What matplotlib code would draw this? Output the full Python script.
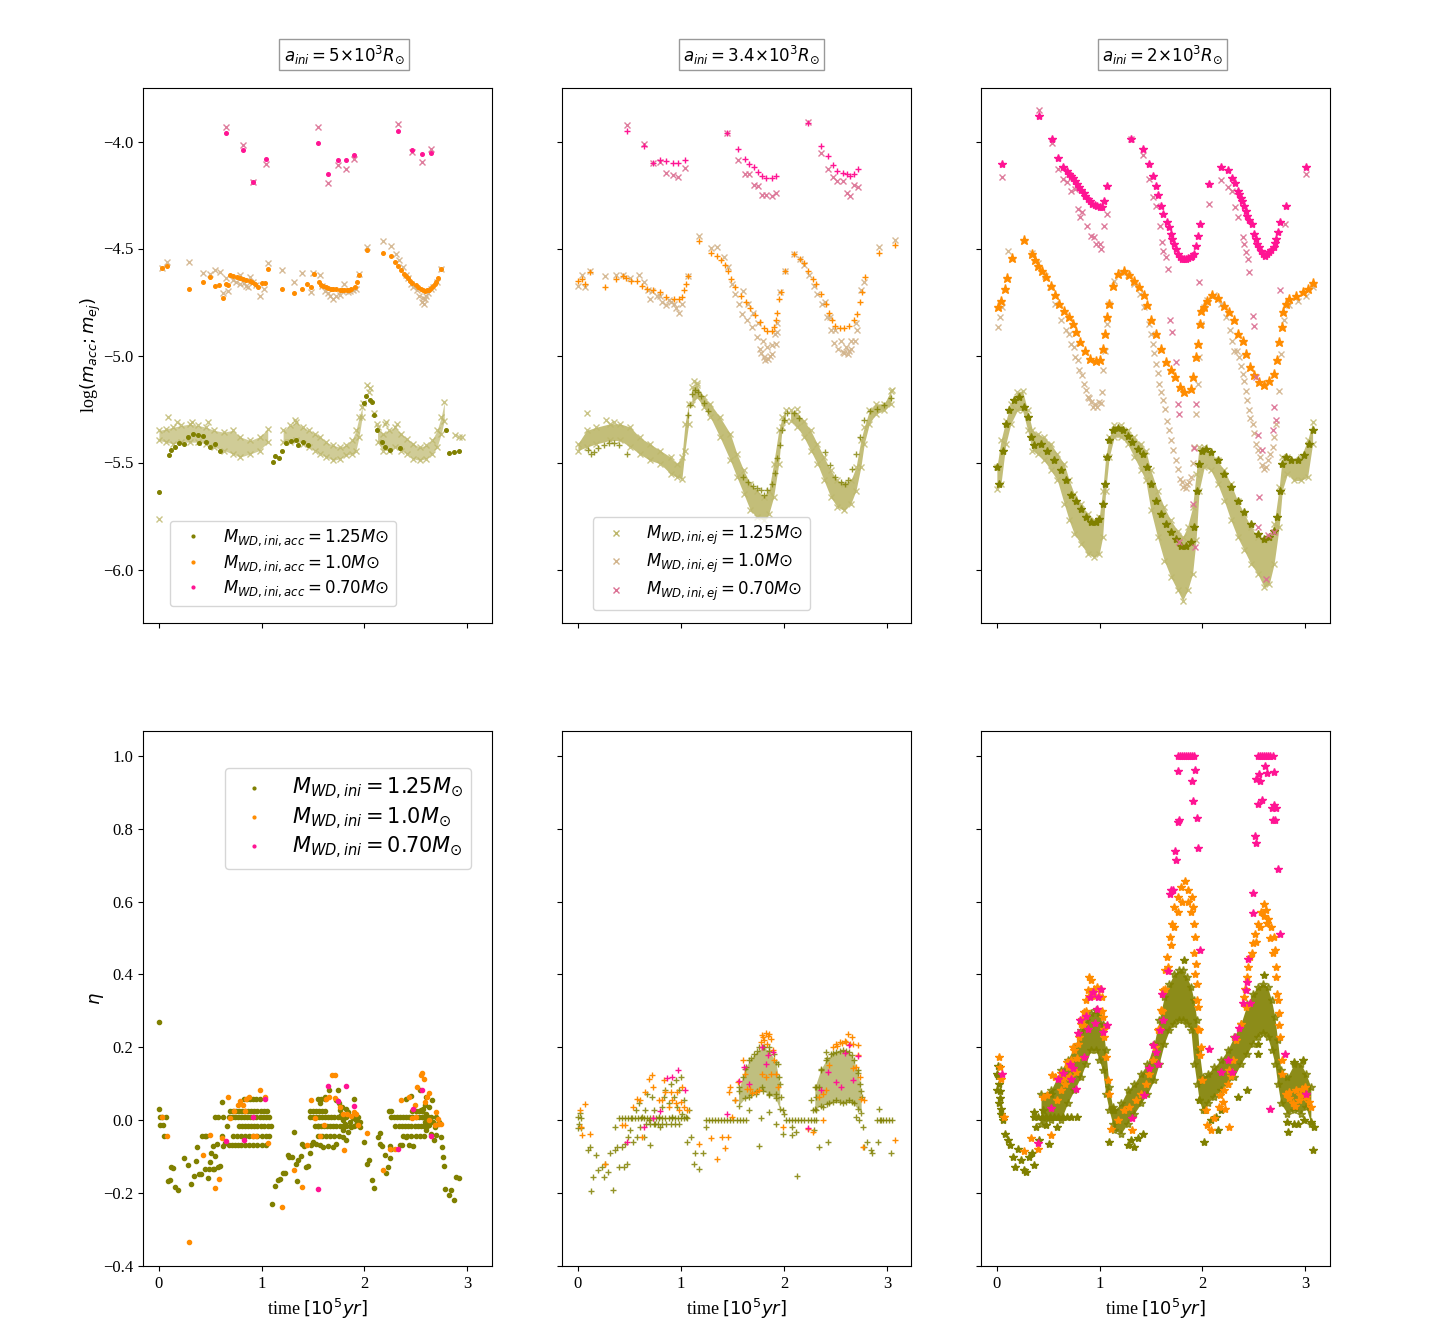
import matplotlib
matplotlib.use("Agg")
import matplotlib.pyplot as plt
from matplotlib.lines import Line2D

plt.rcParams["font.family"] = ["Liberation Serif", "DejaVu Serif"]
plt.rcParams["mathtext.fontset"] = "dejavusans"

# colours
C125, C100, C070 = "olive", "darkorange", "deeppink"
E125, E100, E070 = "darkkhaki", "tan", "palevioletred"

# ==========================
# TOP LEFT  (a_ini = 5e3)
# ==========================
TL_ACC070_T = [0.65, 0.82, 0.92, 1.04, 1.55, 1.65, 1.74, 1.82, 1.90, 2.33, 2.47, 2.56, 2.65]
TL_ACC070_M = [-3.96, -4.04, -4.19, -4.08, -4.005, -4.15, -4.085, -4.085, -4.065, -3.95, -4.04, -4.06, -4.055]
TL_EJ070_M = [-3.93, -4.015, -4.19, -4.105, -3.93, -4.195, -4.11, -4.13, -4.08, -3.92, -4.05, -4.095, -4.035]

TL_ACC100_T = [0.03, 0.08, 0.29, 0.43, 0.50, 0.55, 0.59, 0.62, 0.65, 0.67, 0.69, 0.76, 0.82, 0.89, 0.94,
               0.97, 1.00, 1.03, 1.06, 1.20, 1.32, 1.39, 1.44, 1.48, 1.51, 1.56, 1.58, 1.63, 1.68, 1.73,
               1.78, 1.83, 1.87, 1.91, 1.93, 1.95, 2.03, 2.18, 2.26, 2.30, 2.33, 2.36, 2.39, 2.43, 2.47,
               2.52, 2.57, 2.61, 2.65, 2.69, 2.72, 2.75, 0.72, 0.79, 0.85, 0.91, 1.60, 1.65, 1.70, 1.76,
               1.80, 1.85, 2.41, 2.45, 2.50, 2.55, 2.59, 2.63, 2.67, 2.70]
TL_ACC100_M = [-4.59, -4.58, -4.69, -4.655, -4.635, -4.675, -4.67, -4.73, -4.665, -4.67, -4.626, -4.634,
               -4.643, -4.654, -4.665, -4.68, -4.66, -4.66, -4.595, -4.69, -4.71, -4.69, -4.665, -4.68,
               -4.62, -4.655, -4.67, -4.68, -4.69, -4.69, -4.695, -4.695, -4.69, -4.68, -4.657, -4.626,
               -4.506, -4.519, -4.534, -4.562, -4.583, -4.60, -4.62, -4.64, -4.66, -4.68, -4.696, -4.696,
               -4.685, -4.665, -4.64, -4.597, -4.628, -4.638, -4.648, -4.658, -4.675, -4.685, -4.69,
               -4.693, -4.695, -4.693, -4.63, -4.65, -4.67, -4.69, -4.697, -4.692, -4.675, -4.655]
TL_EJ100_T = [0.03, 0.08, 0.29, 0.43, 0.50, 0.55, 0.60, 0.62, 0.67, 0.65, 0.72, 0.79, 0.85, 0.92, 0.98,
              1.02, 1.06, 0.89, 0.79, 1.20, 1.32, 1.39, 1.48, 1.50, 1.57, 1.59, 1.65, 1.70, 1.76, 1.80,
              1.84, 1.89, 1.95, 2.03, 2.18, 2.26, 2.31, 2.34, 2.38, 2.41, 2.46, 2.51, 2.56, 2.59, 2.62,
              2.67, 2.71, 2.75, 0.75, 0.83, 0.87, 0.95, 1.62, 1.67, 1.73, 1.78, 1.86, 1.92, 2.43, 2.48,
              2.53, 2.57, 2.60, 2.65, 2.58]
TL_EJ100_M = [-4.59, -4.564, -4.565, -4.615, -4.62, -4.60, -4.61, -4.71, -4.70, -4.64, -4.646, -4.665,
              -4.673, -4.657, -4.72, -4.69, -4.568, -4.634, -4.626, -4.60, -4.656, -4.615, -4.704, -4.615,
              -4.626, -4.673, -4.71, -4.735, -4.715, -4.665, -4.704, -4.696, -4.618, -4.494, -4.463,
              -4.49, -4.528, -4.553, -4.587, -4.626, -4.665, -4.696, -4.75, -4.735, -4.71, -4.678,
              -4.657, -4.595, -4.655, -4.66, -4.68, -4.67, -4.70, -4.72, -4.72, -4.70, -4.70, -4.69,
              -4.64, -4.68, -4.72, -4.73, -4.72, -4.69, -4.76]

TL_ACC125_T = [0.0, 0.094, 0.117, 0.156, 0.198, 0.24, 0.286, 0.334, 0.38, 0.39, 0.43, 0.46, 0.50, 0.545,
               0.60, 1.107, 1.13, 1.17, 1.20, 1.24, 1.29, 1.34, 1.357, 1.40, 1.455, 2.0, 2.02, 2.055,
               2.08, 2.10, 2.12, 2.17, 2.20, 2.25, 2.35, 2.80, 2.83, 2.87, 2.92]
TL_ACC125_M = [-5.636, -5.463, -5.44, -5.428, -5.408, -5.413, -5.38, -5.366, -5.37, -5.41, -5.374, -5.405,
               -5.428, -5.413, -5.444, -5.497, -5.469, -5.478, -5.447, -5.407, -5.40, -5.397, -5.42,
               -5.405, -5.42, -5.223, -5.187, -5.206, -5.215, -5.277, -5.347, -5.405, -5.428, -5.44,
               -5.43, -5.346, -5.456, -5.45, -5.447]

# ejected mass, 1.25 Msun: dense band (lower / upper edge) in three pieces + stray points
TL_EJ125_X1 = [0.0, 0.07, 0.14, 0.22, 0.30, 0.38, 0.46, 0.54, 0.63, 0.72, 0.79, 0.89, 0.98, 1.06]
TL_EJ125_LO1 = [-5.397, -5.405, -5.413, -5.405, -5.405, -5.405, -5.413, -5.428, -5.444, -5.46, -5.475, -5.46, -5.444, -5.405]
TL_EJ125_HI1 = [-5.35, -5.343, -5.335, -5.327, -5.32, -5.327, -5.335, -5.35, -5.358, -5.35, -5.38, -5.397, -5.38, -5.343]
TL_EJ125_X2 = [1.21, 1.28, 1.34, 1.40, 1.46, 1.52, 1.57, 1.63, 1.70, 1.76, 1.82, 1.88, 1.92, 1.95, 1.98]
TL_EJ125_LO2 = [-5.405, -5.405, -5.397, -5.413, -5.428, -5.444, -5.46, -5.475, -5.49, -5.483, -5.467, -5.46, -5.444, -5.38, -5.288]
TL_EJ125_HI2 = [-5.35, -5.327, -5.312, -5.335, -5.35, -5.366, -5.38, -5.405, -5.42, -5.428, -5.42, -5.397, -5.35, -5.288, -5.241]
TL_EJ125_X3 = [2.13, 2.18, 2.24, 2.30, 2.36, 2.42, 2.48, 2.54, 2.60, 2.66, 2.71, 2.75, 2.78]
TL_EJ125_LO3 = [-5.405, -5.444, -5.444, -5.428, -5.444, -5.46, -5.483, -5.49, -5.483, -5.46, -5.428, -5.366, -5.304]
TL_EJ125_HI3 = [-5.335, -5.366, -5.35, -5.335, -5.366, -5.39, -5.413, -5.428, -5.42, -5.397, -5.35, -5.288, -5.218]
TL_EJ125_T = [0.0, 0.09, 0.18, 0.32, 0.48, 1.33, 1.99, 2.03, 2.05, 2.06, 2.10, 2.12, 2.20, 2.21, 2.32, 2.88, 2.92, 2.95]
TL_EJ125_M = [-5.766, -5.288, -5.31, -5.31, -5.31, -5.30, -5.22, -5.14, -5.17, -5.15, -5.27, -5.32, -5.32, -5.31, -5.32, -5.37, -5.38, -5.38]

# ==========================
# TOP MIDDLE  (a_ini = 3.4e3)
# ==========================
TM_ACC070_T = [0.48, 0.64, 0.73, 0.80, 0.86, 0.92, 0.97, 1.04, 1.45, 1.555, 1.62, 1.665, 1.71, 1.75,
               1.79, 1.83, 1.88, 1.925, 2.23, 2.36, 2.43, 2.48, 2.52, 2.57, 2.61, 2.64, 2.68, 2.72]
TM_ACC070_M = [-3.95, -4.02, -4.10, -4.087, -4.093, -4.10, -4.10, -4.086, -3.96, -4.037, -4.08, -4.107,
               -4.12, -4.142, -4.159, -4.17, -4.17, -4.159, -3.914, -4.019, -4.07, -4.109, -4.136,
               -4.145, -4.154, -4.16, -4.151, -4.13]
TM_EJ070_M = [-3.924, -4.011, -4.10, -4.097, -4.148, -4.157, -4.164, -4.125, -3.96, -4.086, -4.151,
              -4.151, -4.203, -4.209, -4.25, -4.25, -4.257, -4.24, -3.91, -4.055, -4.13, -4.164, -4.185,
              -4.185, -4.24, -4.257, -4.204, -4.213]

TM_ACC100_T = [0.0, 0.045, 0.07, 0.12, 0.26, 0.37, 0.435, 0.47, 0.52, 0.57, 0.62, 0.67, 0.73, 0.80, 0.86,
               0.93, 0.98, 1.01, 1.03, 1.05, 1.07, 1.18, 1.29, 1.35, 1.39, 1.425, 1.455, 1.49, 1.53, 1.58,
               1.63, 1.675, 1.72, 1.77, 1.805, 1.84, 1.88, 1.90, 1.92, 1.935, 1.955, 1.97, 2.01, 2.10,
               2.16, 2.20, 2.23, 2.28, 2.31, 2.36, 2.41, 2.44, 2.47, 2.50, 2.545, 2.58, 2.63, 2.68, 2.71,
               2.74, 2.76, 2.785, 2.92, 3.08]
TM_ACC100_M = [-4.65, -4.642, -4.665, -4.61, -4.68, -4.642, -4.63, -4.64, -4.65, -4.65, -4.673, -4.69,
               -4.696, -4.704, -4.727, -4.735, -4.735, -4.727, -4.696, -4.665, -4.628, -4.467, -4.522,
               -4.537, -4.553, -4.575, -4.603, -4.642, -4.68, -4.72, -4.75, -4.78, -4.81, -4.844, -4.87,
               -4.886, -4.886, -4.868, -4.836, -4.80, -4.735, -4.704, -4.604, -4.528, -4.548, -4.57,
               -4.603, -4.642, -4.665, -4.712, -4.76, -4.80, -4.836, -4.86, -4.871, -4.872, -4.86,
               -4.836, -4.805, -4.75, -4.704, -4.634, -4.522, -4.483]
TM_EJ100_T = [0.0, 0.045, 0.07, 0.12, 0.26, 0.37, 0.435, 0.505, 0.59, 0.64, 0.685, 0.70, 0.77, 0.815, 0.86,
              0.93, 0.98, 1.01, 1.065, 1.18, 1.29, 1.35, 1.415, 1.46, 1.50, 1.53, 1.56, 1.59, 1.64, 1.69,
              1.74, 1.77, 1.805, 1.85, 1.885, 1.92, 1.935, 1.96, 2.01, 2.10, 2.16, 2.195, 2.245, 2.29,
              2.325, 2.37, 2.42, 2.455, 2.49, 2.525, 2.57, 2.62, 2.655, 2.69, 2.71, 2.75, 2.78, 2.92, 3.08,
              1.60, 1.65, 1.70, 1.75, 1.80, 1.84, 1.88, 1.91, 1.93, 1.78, 1.82, 1.87, 2.40, 2.45, 2.50,
              2.55, 2.60, 2.65, 2.70, 2.58, 2.63, 0.72, 0.80, 0.88, 0.95, 0.90]
TM_EJ100_M = [-4.673, -4.626, -4.68, -4.606, -4.63, -4.626, -4.626, -4.637, -4.626, -4.657, -4.696,
              -4.735, -4.72, -4.75, -4.766, -4.758, -4.80, -4.758, -4.628, -4.442, -4.497, -4.494, -4.54,
              -4.587, -4.665, -4.712, -4.758, -4.805, -4.836, -4.868, -4.914, -4.97, -5.008, -5.016,
              -4.992, -4.945, -4.89, -4.704, -4.604, -4.528, -4.548, -4.575, -4.626, -4.673, -4.712,
              -4.76, -4.82, -4.883, -4.94, -4.97, -4.985, -4.992, -4.97, -4.93, -4.883, -4.696, -4.657,
              -4.494, -4.46, -4.70, -4.76, -4.80, -4.85, -4.93, -4.96, -4.95, -4.90, -4.85, -4.99, -5.02,
              -5.00, -4.75, -4.82, -4.88, -4.93, -4.96, -4.93, -4.85, -4.99, -4.98, -4.70, -4.72, -4.74,
              -4.78, -4.75]

TM_ACC125_T = [0.10, 0.13, 0.16, 0.20, 0.25, 0.30, 0.35, 0.40, 0.48, 1.07, 1.09, 1.11, 1.14, 1.17, 1.20,
               1.22, 1.26, 1.60, 1.65, 1.70, 1.74, 1.78, 1.81, 1.84, 1.88, 1.91, 1.93, 1.96, 1.98, 2.00,
               2.03, 2.10, 2.15, 2.40, 2.45, 2.50, 2.55, 2.59, 2.62, 2.66, 2.70, 2.74, 2.78, 2.84, 2.90,
               2.97, 3.04]
TM_ACC125_M = [-5.44, -5.46, -5.45, -5.43, -5.42, -5.41, -5.41, -5.42, -5.46, -5.28, -5.23, -5.18, -5.16,
               -5.17, -5.19, -5.22, -5.26, -5.57, -5.59, -5.61, -5.62, -5.63, -5.65, -5.63, -5.60, -5.55,
               -5.48, -5.42, -5.35, -5.30, -5.27, -5.27, -5.29, -5.45, -5.51, -5.57, -5.59, -5.60, -5.58,
               -5.53, -5.46, -5.38, -5.30, -5.26, -5.25, -5.23, -5.20]

TM_EJ125_X1 = [0.0, 0.084, 0.18, 0.31, 0.41, 0.51, 0.60, 0.70, 0.80, 0.90, 0.96, 1.01, 1.04, 1.075]
TM_EJ125_HI1 = [-5.413, -5.35, -5.335, -5.319, -5.319, -5.335, -5.382, -5.413, -5.444, -5.475, -5.506, -5.475, -5.319, -5.226]
TM_EJ125_LO1 = [-5.444, -5.428, -5.413, -5.397, -5.397, -5.428, -5.46, -5.49, -5.506, -5.553, -5.569, -5.576, -5.444, -5.319]
TM_EJ125_X2 = [1.107, 1.156, 1.22, 1.286, 1.38, 1.48, 1.545, 1.61, 1.675, 1.74, 1.805, 1.854, 1.90, 1.95, 1.984, 2.016]
TM_EJ125_HI2 = [-5.148, -5.14, -5.195, -5.226, -5.288, -5.366, -5.46, -5.537, -5.60, -5.631, -5.662, -5.631, -5.506, -5.35, -5.288, -5.257]
TM_EJ125_LO2 = [-5.226, -5.195, -5.241, -5.288, -5.382, -5.49, -5.569, -5.646, -5.724, -5.755, -5.771, -5.74, -5.662, -5.506, -5.335, -5.304]
TM_EJ125_X3 = [2.065, 2.13, 2.195, 2.26, 2.325, 2.39, 2.455, 2.52, 2.584, 2.65, 2.70, 2.747, 2.78, 2.83, 2.893, 2.974, 3.04]
TM_EJ125_HI3 = [-5.257, -5.273, -5.304, -5.35, -5.413, -5.475, -5.537, -5.584, -5.60, -5.584, -5.522, -5.397, -5.335, -5.257, -5.226, -5.226, -5.164]
TM_EJ125_LO3 = [-5.304, -5.335, -5.382, -5.444, -5.506, -5.584, -5.662, -5.709, -5.724, -5.693, -5.631, -5.522, -5.413, -5.319, -5.273, -5.257, -5.226]
TM_EJ125_T = [0.09, 0.27, 0.35, 1.13, 1.16, 2.13, 3.05]
TM_EJ125_M = [-5.27, -5.30, -5.31, -5.12, -5.13, -5.25, -5.16]

# ==========================
# TOP RIGHT  (a_ini = 2e3)
# ==========================
TR_ACC070_T = [0.05, 0.406, 0.536, 0.60, 0.64, 0.68, 0.72, 0.76, 0.80, 0.844, 0.883, 0.93, 0.98, 1.02,
               1.04, 1.07, 1.31, 1.425, 1.48, 1.52, 1.55, 1.57, 1.60, 1.62, 1.656, 1.695, 1.727, 1.766,
               1.80, 1.84, 1.89, 1.92, 1.94, 1.955, 1.974, 2.07, 2.18, 2.247, 2.286, 2.32, 2.344, 2.377,
               2.41, 2.44, 2.48, 2.506, 2.53, 2.57, 2.61, 2.65, 2.695, 2.72, 2.74, 2.756, 2.815, 3.01,
               0.70, 0.74, 0.78, 0.82, 0.86, 0.91, 0.955, 1.00, 1.675, 1.71, 1.745, 1.785, 1.82, 1.865,
               1.905, 2.36, 2.39, 2.425, 2.46, 2.52, 2.55, 2.59, 2.63, 2.67, 2.71]
TR_ACC070_M = [-4.104, -3.88, -3.99, -4.076, -4.117, -4.139, -4.16, -4.185, -4.213, -4.24, -4.268, -4.29,
               -4.30, -4.307, -4.279, -4.21, -3.99, -4.034, -4.104, -4.16, -4.209, -4.248, -4.30, -4.338,
               -4.377, -4.43, -4.478, -4.525, -4.548, -4.548, -4.54, -4.525, -4.486, -4.44, -4.385, -4.20,
               -4.12, -4.132, -4.17, -4.193, -4.229, -4.263, -4.30, -4.346, -4.385, -4.43, -4.478, -4.512,
               -4.533, -4.517, -4.494, -4.455, -4.424, -4.377, -4.30, -4.12, -4.15, -4.17, -4.20, -4.225,
               -4.255, -4.28, -4.295, -4.305, -4.40, -4.455, -4.50, -4.54, -4.55, -4.545, -4.535, -4.245,
               -4.28, -4.325, -4.365, -4.455, -4.495, -4.525, -4.528, -4.508, -4.475]
TR_EJ070_T = [0.05, 0.406, 0.536, 0.60, 0.64, 0.68, 0.72, 0.76, 0.79, 0.81, 0.83, 0.877, 0.915, 0.95,
              0.964, 1.0, 1.013, 1.04, 1.07, 1.31, 1.425, 1.48, 1.52, 1.55, 1.59, 1.607, 1.62, 1.646, 1.67,
              1.69, 1.71, 1.74, 1.76, 1.77, 1.97, 1.94, 1.92, 1.906, 1.776, 1.93, 2.07, 2.18, 2.247,
              2.286, 2.32, 2.35, 2.393, 2.41, 2.43, 2.45, 2.457, 2.49, 2.50, 2.52, 2.70, 2.72, 2.685,
              2.54, 2.58, 2.555, 2.545, 2.636, 2.695, 2.62, 2.76, 2.81, 3.01]
TR_EJ070_M = [-4.164, -3.855, -4.008, -4.128, -4.175, -4.19, -4.229, -4.22, -4.315, -4.354, -4.33,
              -4.393, -4.44, -4.447, -4.478, -4.478, -4.50, -4.397, -4.341, -3.99, -4.065, -4.175, -4.26,
              -4.30, -4.393, -4.47, -4.51, -4.54, -4.595, -4.833, -4.89, -5.03, -5.226, -5.273, -4.657,
              -5.226, -5.43, -5.693, -5.872, -5.896, -4.294, -4.182, -4.213, -4.229, -4.307, -4.354,
              -4.444, -4.478, -4.517, -4.548, -4.61, -4.815, -4.86, -5.10, -5.24, -5.30, -5.35, -5.37,
              -5.44, -5.66, -5.80, -5.84, -5.825, -6.045, -4.696, -4.385, -4.154]

TR_ACC100_T = [0.013, 0.045, 0.078, 0.097, 0.143, 0.26, 0.338, 0.373, 0.40, 0.435, 0.477, 0.526, 0.565,
               0.607, 0.656, 0.70, 0.737, 0.77, 0.81, 0.857, 0.91, 0.964, 1.006, 1.03, 1.05, 1.07, 1.094,
               1.127, 1.175, 1.234, 1.29, 1.338, 1.386, 1.43, 1.467, 1.506, 1.55, 1.597, 1.646, 1.695,
               1.737, 1.786, 1.825, 1.89, 1.915, 1.94, 1.955, 1.974, 1.987, 2.013, 2.05, 2.10, 2.156,
               2.214, 2.263, 2.305, 2.344, 2.393, 2.425, 2.468, 2.506, 2.555, 2.604, 2.65, 2.70, 2.727,
               2.75, 2.773, 2.79, 2.815, 2.85, 2.91, 2.98, 3.035, 3.075]
TR_ACC100_M = [-4.774, -4.743, -4.688, -4.637, -4.545, -4.46, -4.525, -4.556, -4.58, -4.603, -4.634,
               -4.673, -4.715, -4.759, -4.79, -4.818, -4.852, -4.891, -4.938, -4.977, -5.016, -5.026,
               -5.02, -4.97, -4.90, -4.82, -4.758, -4.677, -4.62, -4.607, -4.623, -4.65, -4.68, -4.715,
               -4.766, -4.836, -4.90, -4.97, -5.03, -5.07, -5.10, -5.148, -5.17, -5.156, -5.10, -5.008,
               -4.945, -4.852, -4.79, -4.774, -4.743, -4.715, -4.73, -4.77, -4.797, -4.836, -4.90, -4.93,
               -4.992, -5.054, -5.093, -5.124, -5.14, -5.117, -5.086, -5.023, -4.938, -4.868, -4.797,
               -4.758, -4.735, -4.72, -4.704, -4.688, -4.66]
TR_EJ100_T = [0.013, 0.03, 0.05, 0.104, 0.34, 0.40, 0.47, 0.52, 0.565, 0.62, 0.67, 0.72, 0.763, 0.80,
              0.844, 0.883, 0.915, 0.955, 0.997, 1.02, 1.036, 1.05, 1.07, 1.094, 1.143, 1.21, 1.273, 1.338,
              1.396, 1.435, 1.484, 1.516, 1.55, 1.58, 1.614, 1.656, 1.695, 1.74, 1.78, 1.81, 1.85, 1.89,
              1.92, 1.94, 1.955, 1.97, 1.987, 2.013, 2.05, 2.117, 2.18, 2.23, 2.27, 2.31, 2.36, 2.40,
              2.425, 2.457, 2.49, 2.52, 2.565, 2.604, 2.643, 2.685, 2.717, 2.743, 2.766, 2.80, 2.85, 2.93,
              3.01, 3.075, 0.70, 0.75, 0.79, 0.83, 0.87, 0.90, 0.94, 0.98, 1.01, 1.50, 1.53, 1.57, 1.60,
              1.64, 1.68, 1.72, 1.76, 1.80, 1.84, 1.87, 1.91, 2.29, 2.34, 2.38, 2.41, 2.44, 2.47, 2.50,
              2.54, 2.58, 2.62, 2.66, 2.70]
TR_EJ100_M = [-4.868, -4.82, -4.774, -4.51, -4.52, -4.57, -4.63, -4.68, -4.759, -4.836, -4.883, -4.945,
              -5.008, -5.07, -5.132, -5.195, -5.218, -5.226, -5.218, -5.17, -5.07, -4.977, -4.852, -4.758,
              -4.65, -4.61, -4.626, -4.665, -4.712, -4.774, -4.852, -4.945, -5.039, -5.132, -5.21, -5.304,
              -5.397, -5.49, -5.576, -5.615, -5.60, -5.569, -5.428, -5.273, -5.132, -5.008, -4.852,
              -4.774, -4.74, -4.715, -4.759, -4.82, -4.883, -4.977, -5.008, -5.086, -5.164, -5.257,
              -5.32, -5.413, -5.475, -5.53, -5.49, -5.428, -5.32, -5.164, -4.992, -4.836, -4.766, -4.746,
              -4.72, -4.68, -4.90, -4.96, -5.02, -5.09, -5.16, -5.20, -5.24, -5.24, -5.22, -4.90, -4.99,
              -5.08, -5.17, -5.25, -5.35, -5.44, -5.53, -5.59, -5.62, -5.59, -5.50, -4.93, -4.98, -5.05,
              -5.12, -5.21, -5.29, -5.36, -5.44, -5.51, -5.52, -5.46, -5.38]

TR_ACC125_T = [0.0, 0.02, 0.055, 0.088, 0.12, 0.17, 0.218, 0.26, 0.30, 0.33, 0.364, 0.43, 0.49, 0.558,
               0.62, 0.67, 0.72, 0.77, 0.818, 0.867, 0.916, 0.964, 0.997, 1.03, 1.05, 1.07, 1.094, 1.127,
               1.175, 1.224, 1.273, 1.32, 1.37, 1.42, 1.467, 1.506, 1.55, 1.597, 1.646, 1.695, 1.743,
               1.79, 1.84, 1.89, 1.92, 1.948, 1.97, 2.0, 2.036, 2.084, 2.15, 2.214, 2.28, 2.344, 2.41,
               2.474, 2.54, 2.604, 2.65, 2.695, 2.727, 2.76, 2.78, 2.815, 2.86, 2.93, 2.99, 3.04, 3.075]
TR_ACC125_M = [-5.52, -5.60, -5.444, -5.32, -5.257, -5.21, -5.195, -5.24, -5.288, -5.38, -5.42, -5.413,
               -5.444, -5.49, -5.537, -5.584, -5.654, -5.678, -5.716, -5.755, -5.779, -5.779, -5.763,
               -5.693, -5.60, -5.475, -5.397, -5.35, -5.338, -5.35, -5.374, -5.405, -5.436, -5.46, -5.522,
               -5.60, -5.678, -5.74, -5.787, -5.826, -5.857, -5.888, -5.888, -5.872, -5.80, -5.631,
               -5.506, -5.444, -5.436, -5.452, -5.49, -5.553, -5.615, -5.678, -5.732, -5.787, -5.833,
               -5.857, -5.849, -5.818, -5.755, -5.631, -5.506, -5.475, -5.49, -5.49, -5.467, -5.413, -5.35]

TR_EJ125_X = [0.0, 0.04, 0.088, 0.136, 0.20, 0.25, 0.30, 0.347, 0.396, 0.46, 0.526, 0.59, 0.656, 0.705,
              0.753, 0.818, 0.883, 0.948, 0.997, 1.03, 1.06, 1.094, 1.143, 1.208, 1.273, 1.338, 1.403,
              1.45, 1.50, 1.565, 1.63, 1.695, 1.76, 1.81, 1.857, 1.906, 1.94, 1.97, 2.02, 2.084, 2.15,
              2.214, 2.28, 2.344, 2.41, 2.474, 2.54, 2.604, 2.653, 2.70, 2.75, 2.78, 2.83, 2.896, 2.96,
              3.026, 3.075]
TR_EJ125_HI = [-5.522, -5.397, -5.304, -5.226, -5.171, -5.164, -5.257, -5.35, -5.366, -5.382, -5.413,
               -5.46, -5.506, -5.584, -5.646, -5.693, -5.74, -5.771, -5.755, -5.631, -5.475, -5.382,
               -5.327, -5.327, -5.35, -5.382, -5.413, -5.444, -5.537, -5.631, -5.709, -5.771, -5.818,
               -5.849, -5.80, -5.709, -5.553, -5.428, -5.428, -5.46, -5.49, -5.537, -5.60, -5.678, -5.74,
               -5.80, -5.849, -5.864, -5.849, -5.787, -5.615, -5.475, -5.475, -5.49, -5.475, -5.397, -5.312]
TR_EJ125_LO = [-5.623, -5.60, -5.413, -5.319, -5.257, -5.257, -5.35, -5.444, -5.46, -5.49, -5.537,
               -5.584, -5.693, -5.771, -5.833, -5.88, -5.927, -5.942, -5.927, -5.849, -5.631, -5.475,
               -5.382, -5.382, -5.413, -5.475, -5.537, -5.584, -5.724, -5.849, -5.958, -6.036, -6.098,
               -6.145, -6.098, -6.02, -5.864, -5.631, -5.522, -5.537, -5.60, -5.678, -5.771, -5.849,
               -5.911, -5.974, -6.02, -6.083, -6.067, -5.974, -5.80, -5.631, -5.553, -5.584, -5.584,
               -5.569, -5.413]

# ==========================
# BOTTOM LEFT  (eta, a_ini = 5e3)
# ==========================
BL_ACC125_T = [0.0, 0.0, 0.013, 0.03, 0.065, 0.013, 0.04, 0.052, 0.117, 0.136, 0.088, 0.104, 0.156, 0.19,
               0.24, 0.28, 0.315, 0.34, 0.357, 0.373, 0.39, 0.41, 0.416, 0.445, 0.46, 0.445, 0.474, 0.487,
               0.50, 0.51, 0.526, 0.54, 0.55, 0.53, 0.545, 0.565, 0.575, 0.597, 0.61, 0.61, 0.623, 0.64,
               1.10, 1.13, 1.156, 1.18, 1.21, 1.23, 1.26, 1.27, 1.30, 1.32, 1.34, 1.344, 1.357, 1.386,
               1.396, 1.41, 1.43, 1.45, 1.47, 1.484, 1.506, 1.53, 1.55, 1.565, 1.597, 1.646, 1.695, 1.727,
               1.79, 1.825, 1.896, 1.92, 1.955, 2.0, 1.76, 1.776, 1.79, 1.81, 1.825, 1.84, 1.857, 1.873,
               1.89, 1.906, 1.92, 1.94, 1.955, 1.79, 1.84, 1.75, 1.78, 1.825, 1.73, 1.74, 1.66, 1.62,
               1.565, 2.026, 2.05, 2.08, 2.10, 2.13, 2.15, 2.15, 2.175, 2.20, 2.214, 2.23, 2.247, 2.253,
               2.263, 2.24, 2.263, 2.30, 2.344, 2.37, 2.41, 2.44, 2.474, 2.41, 2.457, 2.54, 2.60, 2.66,
               2.68, 2.70, 2.727, 2.75, 2.76, 2.77, 2.78, 2.79, 2.825, 2.85, 2.877, 2.896, 2.92, 2.555,
               2.57, 2.59, 2.60, 2.62, 2.636, 2.65, 2.67, 2.685, 2.70, 2.717, 2.59, 2.636, 2.60, 2.65, 2.57]
BL_ACC125_E = [0.269, 0.031, 0.009, 0.008, 0.008, -0.014, -0.014, -0.042, -0.128, -0.13, -0.167, -0.163,
               -0.184, -0.192, -0.105, -0.122, -0.174, -0.153, -0.112, -0.073, -0.148, -0.148, -0.043,
               -0.043, -0.043, -0.134, -0.159, -0.135, -0.114, -0.091, -0.135, -0.133, -0.097, -0.071,
               0.009, -0.064, -0.128, -0.125, 0.049, -0.043, -0.071, -0.062,
               -0.229, -0.181, -0.165, -0.16, -0.144, -0.144, -0.096, -0.10, -0.10, -0.033, -0.119,
               -0.166, -0.11, -0.099, -0.064, -0.071, -0.128, -0.126, -0.091, -0.069, -0.06, -0.064,
               -0.015, -0.069, -0.073, -0.071, -0.073, -0.066, -0.046, -0.055, 0.059, -0.014, -0.018,
               -0.059, 0.027, 0.014, 0.0, -0.009, 0.009, 0.023, -0.005, -0.018, 0.005, 0.018, 0.0, 0.009,
               -0.005, -0.027, -0.032, 0.046, 0.037, 0.032, 0.055, 0.082, 0.082, 0.064, 0.046,
               -0.119, -0.108, -0.165, -0.187, -0.046, -0.034, -0.066, -0.071, -0.096, -0.146, -0.128,
               -0.071, -0.105, -0.08, 0.026, 0.026, -0.015, -0.069, -0.069, -0.046, -0.069, -0.071, 0.059,
               0.066, 0.082, 0.064, 0.055, -0.055, -0.041, -0.005, -0.046, -0.073, -0.10, -0.125, -0.188,
               -0.205, -0.192, -0.218, -0.157, -0.158, 0.027, 0.009, -0.005, 0.018, 0.0, -0.014, 0.009,
               -0.005, -0.018, 0.009, -0.009, 0.041, 0.037, -0.027, -0.038, 0.032]
# the 1.25 Msun run sits on a few discrete eta levels
BL_ROW_LEVELS = [0.057, 0.026, 0.008, -0.015, -0.043, -0.069]
BL_ROW_TIMES = [
    [0.83, 0.86, 0.89, 0.92, 0.95, 0.98, 1.55, 1.58, 1.62],
    [0.69, 0.72, 0.75, 0.78, 0.81, 0.84, 0.87, 0.90, 0.93, 0.96, 0.99, 1.02, 1.05,
     1.47, 1.50, 1.53, 1.56, 1.59, 1.62, 2.47, 2.50, 2.53, 2.56],
    [0.58, 0.62, 0.68, 0.71, 0.74, 0.77, 0.80, 0.83, 0.86, 0.89, 0.92, 0.95, 0.98, 1.01, 1.04, 1.07,
     1.47, 1.50, 1.53, 1.56, 1.59, 1.62, 1.65, 1.68, 1.71, 1.74, 1.77, 1.80,
     2.26, 2.29, 2.32, 2.35, 2.38, 2.41, 2.44, 2.47, 2.50, 2.53, 2.56, 2.59, 2.62],
    [0.66, 0.78, 0.81, 0.84, 0.87, 0.90, 0.93, 0.96, 0.99, 1.02, 1.06, 1.09,
     1.52, 1.55, 1.58, 1.61, 1.64, 1.67, 1.70, 1.73, 1.76, 1.79, 1.82, 1.86, 1.90,
     2.34, 2.37, 2.40, 2.43, 2.46, 2.49, 2.52, 2.55, 2.58, 2.61],
    [0.72, 0.76, 0.80, 0.84, 0.88, 0.92, 0.96, 1.00, 1.04, 1.07,
     1.55, 1.59, 1.63, 1.67, 1.71, 1.75, 2.38, 2.42, 2.46, 2.50, 2.54, 2.58],
    [0.68, 0.71, 0.74, 0.77, 0.80, 0.84, 0.88, 0.92, 0.96, 1.00, 1.04],
]
BL_ACC100_T = [0.03, 0.08, 0.29, 0.43, 0.50, 0.55, 0.59, 0.617, 0.67, 0.695, 0.73, 0.77, 0.79, 0.82, 0.835,
               0.85, 0.88, 0.916, 0.95, 0.98, 1.03, 1.06, 1.20, 1.39, 1.32, 1.44, 1.477, 1.52, 1.565, 1.61,
               1.63, 1.66, 1.688, 1.714, 1.72, 1.76, 1.79, 1.83, 1.87, 1.896, 1.92, 1.94, 1.80, 2.03, 2.18,
               2.25, 2.30, 2.36, 2.44, 2.47, 2.49, 2.51, 2.55, 2.565, 2.578, 2.597, 2.61, 2.63, 2.636,
               2.685, 2.695, 2.717, 2.73, 2.75, 2.506]
BL_ACC100_E = [0.008, -0.043, -0.335, -0.095, -0.041, -0.187, -0.16, -0.05, 0.065, 0.006, 0.026, 0.041,
               0.053, 0.041, 0.026, 0.059, 0.064, -0.043, -0.043, 0.082, 0.064, -0.062, -0.237, -0.183,
               -0.137, -0.069, 0.055, 0.006, -0.043, -0.014, 0.057, 0.064, 0.123, 0.125, 0.062, 0.037,
               0.016, 0.018, 0.011, 0.023, 0.016, -0.014, -0.082, -0.035, -0.137, -0.079, -0.08, 0.055,
               0.064, 0.007, 0.041, 0.09, 0.123, 0.13, 0.112, 0.05, 0.064, 0.076, 0.0, -0.012, 0.023,
               0.002, -0.011, -0.009, 0.009]
BL_ACC070_T = [0.656, 0.828, 0.916, 1.036, 1.55, 1.65, 1.74, 1.818, 1.896, 2.33, 2.474, 2.565, 2.653]
BL_ACC070_E = [-0.058, -0.055, 0.009, 0.059, -0.189, 0.094, 0.053, 0.093, 0.038, -0.08, 0.03, 0.082, -0.044]

# ==========================
# BOTTOM MIDDLE  (eta, a_ini = 3.4e3)
# ==========================
BM_ACC125_T = [0.10, 0.12, 0.146, 0.18, 0.13, 0.20, 0.234, 0.25, 0.266, 0.29, 0.315, 0.34, 0.364, 0.364,
               0.38, 0.40, 0.43, 0.445, 0.46, 0.477, 0.49, 0.51, 0.526, 0.54, 0.56, 0.575, 0.59, 0.607,
               0.623, 0.64, 0.656, 0.67, 0.69, 0.705, 0.72, 0.737, 0.753, 0.786, 0.80, 0.818, 0.834,
               0.85, 0.883, 0.90, 0.916, 0.93, 0.948, 0.964, 0.98, 0.997, 1.01, 1.03, 1.045, 1.06, 1.08,
               1.10, 1.127, 1.14, 1.18, 1.21, 1.24, 1.53, 1.565, 1.60, 1.63, 1.66, 1.71, 1.76, 1.81,
               1.857, 1.906, 1.94, 1.955, 1.97, 1.99, 1.66, 1.73, 1.79, 1.857, 1.92, 1.66, 1.78, 1.76,
               1.857, 1.92, 1.99, 2.0, 2.02, 2.08, 2.117, 2.127, 2.08, 2.31, 2.36, 2.41, 2.457, 2.506,
               2.57, 2.636, 2.685, 2.717, 2.743, 2.756, 2.31, 2.377, 2.44, 2.506, 2.57, 2.636, 2.685,
               2.70, 2.73, 2.766, 2.78, 2.81, 2.85, 2.86, 2.91, 2.92, 2.94, 3.04, 2.425, 2.344, 2.295,
               2.28, 2.26, 2.31, 2.344, 2.41, 0.0, 0.01, 0.02, 0.03, 0.0, 0.035]
BM_ACC125_E = [-0.082, -0.073, -0.155, -0.096, -0.195, -0.137, -0.128, -0.155, -0.119, -0.142, -0.091,
               -0.192, -0.082, -0.018, -0.073, -0.128, -0.073, -0.128, -0.064, -0.119, -0.046, -0.027,
               0.005, -0.059, 0.027, -0.046, 0.046, -0.018, 0.009, -0.046, 0.027, 0.073, 0.0, -0.069,
               0.064, 0.027, -0.009, 0.009, -0.018, 0.037, 0.064, 0.082, 0.046, 0.10, 0.009, 0.064, 0.11,
               0.037, 0.082, 0.119, 0.018, 0.055, 0.009, -0.059, 0.027, -0.046,
               -0.121, -0.091, -0.133, -0.091, -0.018, 0.055, 0.091, 0.119, 0.146, 0.165, 0.183, 0.20,
               0.20, 0.20, 0.183, 0.155, 0.119, 0.064, 0.027, 0.064, 0.073, 0.091, 0.073, 0.073, 0.027,
               0.005, -0.071, 0.023, -0.009, -0.037, 0.018, 0.0, -0.018, -0.032, -0.153, -0.041, 0.091,
               0.137, 0.165, 0.183, 0.187, 0.192, 0.187, 0.165, 0.137, 0.10, 0.064, 0.027, 0.037, 0.046,
               0.055, 0.046, 0.055, 0.046, 0.009, 0.0, -0.018, -0.073, -0.059, -0.082, -0.091, -0.059,
               0.03, 0.0, -0.091, -0.059, -0.073, -0.027, 0.027, 0.055, 0.064, 0.091, 0.187,
               0.01, -0.01, 0.02, -0.02, -0.02, 0.005]
# runs of eta = 0 and the near-zero rows
BM_ROW_LEVELS = [0.0, 0.006, -0.01]
BM_ROW_TIMES = [
    [1.24, 1.27, 1.30, 1.33, 1.36, 1.39, 1.42, 1.45, 1.48, 1.51, 1.54, 1.57, 1.60, 1.63,
     2.05, 2.08, 2.11, 2.14, 2.17, 2.20, 2.23, 2.26, 2.29, 2.31, 2.90, 2.93, 2.96, 2.99, 3.02, 3.05],
    [0.40, 0.43, 0.46, 0.49, 0.52, 0.55, 0.58, 0.61, 0.64, 0.67, 0.70, 0.73, 0.76, 0.79, 0.82,
     0.85, 0.88, 0.91, 0.94, 0.97, 1.00, 1.03, 1.06],
    [0.66, 0.70, 0.74, 0.78, 0.82, 0.86, 0.90, 0.94, 0.98],
]
# dense cores of the two humps (lower / upper edge)
BM_CORE1_X = [1.56, 1.62, 1.68, 1.74, 1.80, 1.86, 1.92, 1.96]
BM_CORE1_LO = [0.04, 0.06, 0.07, 0.08, 0.08, 0.07, 0.06, 0.03]
BM_CORE1_HI = [0.08, 0.14, 0.17, 0.19, 0.20, 0.19, 0.16, 0.10]
BM_CORE2_X = [2.30, 2.36, 2.42, 2.48, 2.54, 2.60, 2.66, 2.72, 2.75]
BM_CORE2_LO = [0.03, 0.04, 0.045, 0.05, 0.05, 0.05, 0.05, 0.03, 0.02]
BM_CORE2_HI = [0.09, 0.14, 0.17, 0.185, 0.19, 0.19, 0.18, 0.13, 0.08]

BM_ACC100_T = [0.023, 0.065, 0.03, 0.045, 0.12, 0.26, 0.43, 0.46, 0.54, 0.575, 0.607, 0.623, 0.656, 0.695,
               0.72, 0.727, 0.786, 0.818, 0.834, 0.85, 0.883, 0.90, 0.916, 0.948, 0.964, 0.98, 0.997,
               1.013, 1.03, 1.06, 1.175, 1.29, 1.35, 1.40, 1.425, 1.458, 1.50, 1.467, 1.48, 1.53, 1.55,
               1.60, 1.62, 1.646, 1.67, 1.695, 1.727, 1.76, 1.79, 1.825, 1.857, 1.873, 1.81, 1.84, 1.89,
               1.906, 1.92, 1.94, 1.873, 1.825, 1.79, 1.99, 2.23, 2.28, 2.377, 2.344, 2.377, 2.41, 2.44,
               2.474, 2.506, 2.54, 2.59, 2.62, 2.66, 2.675, 2.717, 2.717, 2.70, 2.67, 2.743, 2.75, 2.78,
               2.766, 3.075, 1.80, 1.85, 1.78, 2.52, 2.56, 2.60, 2.64]
BM_ACC100_E = [0.027, 0.044, -0.018, -0.041, -0.038, -0.119, -0.014, -0.014, 0.037, 0.059, 0.055, -0.046,
               0.078, 0.114, 0.123, 0.09, 0.055, 0.055, 0.11, 0.078, 0.037, 0.078, 0.055, 0.046, 0.078,
               0.027, 0.05, 0.091, 0.037, 0.027, -0.064, -0.05, -0.107, -0.046, -0.076, -0.046, 0.009,
               0.078, 0.091, 0.055, 0.105, 0.165, 0.128, 0.087, 0.087, 0.075, 0.078, 0.082, 0.233, 0.238,
               0.236, 0.224, 0.219, 0.21, 0.192, 0.165, 0.128, 0.091, 0.128, 0.119, 0.128, -0.018, -0.023,
               -0.032, 0.0, 0.064, 0.073, 0.082, 0.151, 0.201, 0.21, 0.215, 0.218, 0.236, 0.229, 0.21,
               0.206, 0.178, 0.146, 0.142, 0.119, 0.059, 0.055, -0.073, -0.055, 0.228, 0.232, 0.215,
               0.205, 0.212, 0.215, 0.21]
BM_ACC070_T = [0.477, 0.646, 0.727, 0.80, 0.867, 0.916, 0.974, 1.04, 1.45, 1.56, 1.61, 1.66, 1.786, 1.825,
               1.85, 1.896, 2.23, 2.36, 2.425, 2.506, 2.555, 2.597, 2.63, 2.67, 2.717]
BM_ACC070_E = [-0.061, -0.018, 0.007, 0.025, 0.117, 0.119, 0.137, 0.084, 0.018, 0.107, 0.146, 0.10, 0.20,
               0.155, 0.178, 0.187, -0.02, 0.084, 0.133, 0.105, 0.091, 0.185, 0.206, 0.11, 0.175]

# ==========================
# BOTTOM RIGHT  (eta, a_ini = 2e3)
# ==========================
BR_ACC125_BX = [0.43, 0.526, 0.623, 0.688, 0.753, 0.818, 0.867, 0.916, 0.964, 0.997, 1.03, 1.06, 1.094,
                1.127, 1.143, 1.208, 1.273, 1.338, 1.403, 1.467, 1.532, 1.58, 1.63, 1.68, 1.727, 1.776,
                1.81, 1.85, 1.89, 1.92, 1.948, 1.97, 2.003, 2.052, 2.117, 2.18, 2.247, 2.31, 2.377, 2.44,
                2.49, 2.54, 2.588, 2.636, 2.675, 2.708, 2.734, 2.766, 2.83, 2.896, 2.96, 3.01, 3.058]
BR_ACC125_HI = [0.073, 0.082, 0.137, 0.165, 0.201, 0.247, 0.274, 0.293, 0.302, 0.293, 0.265, 0.192, 0.091,
                0.037, 0.027, 0.046, 0.082, 0.10, 0.128, 0.155, 0.21, 0.274, 0.338, 0.375, 0.402, 0.411,
                0.411, 0.393, 0.366, 0.329, 0.274, 0.192, 0.119, 0.128, 0.146, 0.165, 0.192, 0.229, 0.265,
                0.32, 0.347, 0.366, 0.375, 0.366, 0.329, 0.283, 0.219, 0.137, 0.119, 0.155, 0.155, 0.128,
                0.091]
BR_ACC125_LO = [-0.009, 0.0, 0.0, 0.046, 0.082, 0.119, 0.155, 0.192, 0.192, 0.165, 0.137, 0.073, 0.027,
                -0.009, -0.027, -0.037, -0.009, 0.018, 0.046, 0.073, 0.11, 0.155, 0.21, 0.247, 0.265,
                0.274, 0.274, 0.265, 0.247, 0.155, 0.10, 0.055, 0.027, 0.046, 0.064, 0.082, 0.10, 0.119,
                0.155, 0.183, 0.21, 0.229, 0.238, 0.229, 0.192, 0.155, 0.10, 0.046, 0.018, 0.027, 0.018,
                0.037, -0.009]
BR_ACC125_T = [0.0, 0.006, 0.023, 0.04, 0.055, 0.078, 0.104, 0.13, 0.153, 0.18, 0.208, 0.234, 0.26, 0.28,
               0.315, 0.34, 0.357, 0.364, 0.38, 0.41, 0.445, 0.477, 0.51, 0.526, 0.584, 0.78, 1.094, 1.127,
               1.273, 1.305, 1.338, 1.37, 1.42, 1.97, 2.013, 2.026, 2.084, 2.133, 2.15, 2.18, 2.344, 2.44,
               2.54, 2.54, 2.604, 1.825, 2.83, 2.896, 2.93, 2.99, 3.058, 3.075, 3.09, 2.84, 2.896, 2.98,
               0.01, 0.02, 0.03, 0.045, 0.06, 0.015, 0.035, 0.36, 0.40, 0.44, 0.48, 0.52, 0.56, 0.60, 0.64,
               0.68, 0.72]
BR_ACC125_E = [0.128, 0.082, 0.046, 0.018, 0.0, -0.037, -0.055, -0.069, -0.10, -0.128, -0.078, -0.11,
               -0.137, -0.142, -0.10, -0.091, -0.123, 0.023, -0.018, -0.055, 0.027, -0.014, -0.064, 0.073,
               -0.018, 0.009, -0.059, 0.027, -0.069, -0.055, -0.073, -0.05, -0.037, 0.055, -0.059, 0.027,
               0.0, 0.009, -0.027, 0.027, 0.064, 0.082, 0.183, 0.21, 0.398, 0.439, -0.005, -0.009, -0.009,
               0.0, -0.005, -0.082, -0.018, -0.032, 0.16, 0.165, 0.15, 0.10, 0.06, 0.03, 0.01, 0.12, 0.08,
               0.009, 0.009, 0.009, 0.009, 0.009, 0.009, 0.009, 0.009, 0.009, 0.009]

BR_ACC100_T = [0.023, 0.03, 0.045, 0.07, 0.26, 0.33, 0.40, 0.445, 0.49, 0.526, 0.54, 0.565, 0.59, 0.623,
               0.64, 0.66, 0.688, 0.705, 0.72, 0.753, 0.77, 0.786, 0.80, 0.818, 0.834, 0.85, 0.867, 0.89,
               0.90, 0.92, 0.948, 0.98, 1.006, 1.02, 1.03, 1.045, 1.06, 1.078, 1.094, 1.11, 1.175, 1.24,
               1.29, 1.32, 1.354, 1.40, 1.45, 1.484, 1.516, 1.54, 1.565, 1.597, 1.62, 1.64, 1.66, 1.688,
               1.71, 1.73, 1.76, 1.79, 1.831, 1.86, 1.896, 1.915, 1.92, 1.93, 1.94, 1.948, 1.96, 1.97,
               1.99, 2.0, 2.036, 2.05, 2.084, 2.117, 2.165, 2.214, 2.263, 2.263, 2.295, 2.33, 2.377, 2.41,
               2.425, 2.44, 2.468, 2.49, 2.51, 2.54, 2.57, 2.597, 2.62, 2.64, 2.67, 2.695, 2.71, 2.717,
               2.727, 2.743, 2.76, 2.776, 2.78, 2.815, 2.85, 2.88, 2.91, 2.94, 2.97, 3.01, 3.06,
               1.58, 1.61, 1.64, 1.67, 1.70, 1.73, 1.76, 1.80, 1.86, 1.89, 1.92, 1.93, 1.95, 1.96, 1.975,
               2.42, 2.45, 2.48, 2.52, 2.56, 2.60, 2.63, 2.66, 2.69, 2.72, 2.735, 2.75, 0.84, 0.87, 0.90,
               0.93, 0.96, 0.99, 1.02, 1.04, 0.62, 0.68, 0.74, 0.78, 0.71, 2.17, 2.20, 2.25, 2.28, 2.22,
               2.85, 2.90, 2.95, 3.0, 3.04]
BR_ACC100_E = [0.174, 0.146, 0.114, 0.009, -0.084, -0.05, -0.078, 0.064, 0.069, -0.041, 0.123, 0.119,
               0.055, 0.082, 0.114, 0.10, 0.146, 0.119, 0.165, 0.192, 0.133, 0.21, 0.229, 0.265, 0.279,
               0.297, 0.329, 0.357, 0.393, 0.384, 0.361, 0.366, 0.361, 0.338, 0.283, 0.229, 0.174, 0.11,
               0.073, -0.023, 0.0, 0.027, 0.037, -0.027, 0.055, 0.073, 0.10, 0.128, 0.165, 0.201, 0.247,
               0.302, 0.357, 0.411, 0.448, 0.503, 0.539, 0.585, 0.613, 0.64, 0.656, 0.631, 0.613, 0.585,
               0.539, 0.503, 0.43, 0.375, 0.311, 0.247, 0.201, 0.11, 0.027, -0.014, -0.027, 0.005, 0.037,
               0.082, -0.018, 0.137, 0.165, 0.219, 0.265, 0.338, 0.311, 0.393, 0.448, 0.485, 0.512, 0.539,
               0.571, 0.594, 0.576, 0.553, 0.53, 0.503, 0.466, 0.393, 0.347, 0.293, 0.229, 0.165, 0.128,
               0.073, 0.078, 0.046, 0.082, 0.055, 0.087, 0.064, 0.037,
               0.25, 0.30, 0.36, 0.42, 0.48, 0.53, 0.57, 0.60, 0.60, 0.57, 0.46, 0.40, 0.33, 0.25, 0.18,
               0.36, 0.42, 0.46, 0.49, 0.53, 0.56, 0.54, 0.50, 0.46, 0.42, 0.33, 0.26, 0.26, 0.30, 0.34,
               0.35, 0.34, 0.34, 0.30, 0.25, 0.13, 0.16, 0.20, 0.17, 0.12, 0.07, 0.05, 0.10, 0.12, 0.03,
               0.06, 0.04, 0.07, 0.09, 0.05]

BR_ACC070_T = [1.76, 1.93, 1.90, 1.915, 1.945, 1.76, 1.77, 1.737, 1.747, 1.955, 1.70, 1.72, 1.69, 1.974,
               1.67, 1.607, 1.59, 1.516, 1.484, 1.43, 1.315, 2.07, 2.18, 2.247, 2.286, 2.32, 2.36, 2.393,
               2.43, 2.44, 2.45, 2.468, 2.49, 2.49, 2.516, 2.52, 2.526, 2.55, 2.565, 2.54, 2.58, 2.614,
               2.63, 2.70, 2.675, 2.70, 2.717, 2.69, 2.71, 2.74, 2.76, 2.81, 0.05, 0.40, 0.53, 0.60, 0.64,
               0.71, 0.737, 0.786, 0.81, 0.867, 0.89, 0.91, 0.932, 0.955, 0.974, 0.987, 1.013, 1.036,
               1.07, 0.85, 0.77, 0.72, 1.614, 1.55, 1.57, 3.01, 2.66]
BR_ACC070_E = [0.957, 0.962, 0.931, 0.876, 0.83, 0.818, 0.823, 0.739, 0.715, 0.748, 0.631, 0.633, 0.622,
               0.466, 0.41, 0.347, 0.247, 0.206, 0.144, 0.069, 0.006, 0.195, 0.133, 0.165, 0.133, 0.229,
               0.254, 0.322, 0.358, 0.378, 0.443, 0.322, 0.624, 0.569, 0.779, 0.761, 0.936, 0.951, 0.93,
               0.869, 0.88, 0.971, 0.953, 0.955, 0.858, 0.864, 0.858, 0.823, 0.825, 0.69, 0.512, 0.183,
               0.128, -0.062, 0.034, 0.114, 0.13, 0.155, 0.142, 0.238, 0.276, 0.285, 0.249, 0.338, 0.352,
               0.267, 0.306, 0.338, 0.361, 0.242, 0.26, 0.174, 0.087, 0.114, 0.274, 0.187, 0.155, 0.073,
               0.032]
# eta saturates at 1 near the two periastron passages
BR_FLAT_T = [1.76, 1.78, 1.80, 1.82, 1.84, 1.86, 1.88, 1.90, 1.92, 2.54, 2.56, 2.58, 2.60, 2.62, 2.64, 2.66, 2.685]
BR_FLAT_E = 1.0

TITLES = [r"$a_{ini} = 5{\times}10^3R_{\odot}$",
          r"$a_{ini} = 3.4{\times}10^3R_{\odot}$",
          r"$a_{ini} = 2{\times}10^3R_{\odot}$"]
MASS_LABELS = ["1.25", "1.0", "0.70"]


def pts(ax, t, v, color, marker, ms, alpha=1.0, mew=1.0, z=2):
    ax.plot(t, v, ls="none", marker=marker, ms=ms, color=color,
            alpha=alpha, mew=mew, mec=color, zorder=z)


def band(ax, x, lo, hi, color, marker, ms, alpha=0.9, z=1):
    ax.fill_between(x, lo, hi, color=color, alpha=alpha, lw=0, zorder=z)
    pts(ax, x, lo, color, marker, ms, alpha=0.8, z=z)
    pts(ax, x, hi, color, marker, ms, alpha=0.8, z=z)


def rows(ax, levels, times, color, marker, ms, alpha=1.0):
    for level, tt in zip(levels, times):
        pts(ax, tt, [level] * len(tt), color, marker, ms, alpha=alpha)


fig = plt.figure(figsize=(14.35, 13.39), dpi=100)
W, H = 1435.0, 1339.0
lefts = [143, 562, 981]
tops = [88, 731]
aw, ah = 349, 535

axes = [[None] * 3 for _ in range(2)]
for r in range(2):
    for c in range(3):
        rect = [lefts[c] / W, 1 - (tops[r] + ah) / H, aw / W, ah / H]
        sx = axes[0][c] if r == 1 else None
        sy = axes[r][0] if c > 0 else None
        axes[r][c] = fig.add_axes(rect, sharex=sx, sharey=sy)

tl, tm, tr = axes[0]
bl, bm, br = axes[1]

# ---- top left ----
band(tl, TL_EJ125_X1, TL_EJ125_LO1, TL_EJ125_HI1, E125, "x", 4.5, alpha=0.7)
band(tl, TL_EJ125_X2, TL_EJ125_LO2, TL_EJ125_HI2, E125, "x", 4.5, alpha=0.7)
band(tl, TL_EJ125_X3, TL_EJ125_LO3, TL_EJ125_HI3, E125, "x", 4.5, alpha=0.7)
pts(tl, TL_EJ125_T, TL_EJ125_M, E125, "x", 4.5, alpha=0.8)
pts(tl, TL_ACC125_T, TL_ACC125_M, C125, "o", 2.6, z=3)
pts(tl, TL_EJ100_T, TL_EJ100_M, E100, "x", 4.5, alpha=0.9)
pts(tl, TL_ACC100_T, TL_ACC100_M, C100, "o", 2.6, z=3)
pts(tl, TL_ACC070_T, TL_EJ070_M, E070, "x", 4.5, alpha=0.9)
pts(tl, TL_ACC070_T, TL_ACC070_M, C070, "o", 2.6, z=3)

# ---- top middle ----
band(tm, TM_EJ125_X1, TM_EJ125_LO1, TM_EJ125_HI1, E125, "x", 4.5)
band(tm, TM_EJ125_X2, TM_EJ125_LO2, TM_EJ125_HI2, E125, "x", 4.5)
band(tm, TM_EJ125_X3, TM_EJ125_LO3, TM_EJ125_HI3, E125, "x", 4.5)
pts(tm, TM_EJ125_T, TM_EJ125_M, E125, "x", 4.5, alpha=0.8)
pts(tm, TM_ACC125_T, TM_ACC125_M, C125, "+", 5, alpha=0.8, z=3)
pts(tm, TM_EJ100_T, TM_EJ100_M, E100, "x", 4.5, alpha=0.9)
pts(tm, TM_ACC100_T, TM_ACC100_M, C100, "+", 5, z=3)
pts(tm, TM_ACC070_T, TM_EJ070_M, E070, "x", 4.5, alpha=0.9)
pts(tm, TM_ACC070_T, TM_ACC070_M, C070, "+", 5, z=3)

# ---- top right ----
band(tr, TR_EJ125_X, TR_EJ125_LO, TR_EJ125_HI, E125, "x", 4.5)
pts(tr, TR_ACC125_T, TR_ACC125_M, C125, "*", 6, z=3)
pts(tr, TR_EJ100_T, TR_EJ100_M, E100, "x", 5, alpha=0.9)
pts(tr, TR_ACC100_T, TR_ACC100_M, C100, "*", 6.5, z=3)
pts(tr, TR_EJ070_T, TR_EJ070_M, E070, "x", 4.5, alpha=0.9, z=4)
pts(tr, TR_ACC070_T, TR_ACC070_M, C070, "*", 6, z=4)

# ---- bottom left ----
pts(bl, BL_ACC125_T, BL_ACC125_E, C125, "o", 3)
rows(bl, BL_ROW_LEVELS, BL_ROW_TIMES, C125, "o", 3)
pts(bl, BL_ACC100_T, BL_ACC100_E, C100, "o", 3, z=3)
pts(bl, BL_ACC070_T, BL_ACC070_E, C070, "o", 3, z=4)

# ---- bottom middle ----
band(bm, BM_CORE1_X, BM_CORE1_LO, BM_CORE1_HI, C125, "+", 5, alpha=0.5)
band(bm, BM_CORE2_X, BM_CORE2_LO, BM_CORE2_HI, C125, "+", 5, alpha=0.5)
pts(bm, BM_ACC125_T, BM_ACC125_E, C125, "+", 5, alpha=0.85)
rows(bm, BM_ROW_LEVELS, BM_ROW_TIMES, C125, "+", 5, alpha=0.85)
pts(bm, BM_ACC100_T, BM_ACC100_E, C100, "+", 5, z=3)
pts(bm, BM_ACC070_T, BM_ACC070_E, C070, "+", 5, z=4)

# ---- bottom right ----
band(br, BR_ACC125_BX, BR_ACC125_LO, BR_ACC125_HI, C125, "*", 6, alpha=0.9)
pts(br, BR_ACC125_T, BR_ACC125_E, C125, "*", 6)
pts(br, BR_ACC100_T, BR_ACC100_E, C100, "*", 6, z=3)
pts(br, BR_ACC070_T, BR_ACC070_E, C070, "*", 6, z=4)
pts(br, BR_FLAT_T, [BR_FLAT_E] * len(BR_FLAT_T), C070, "*", 6, z=4)

# ---- axes cosmetics ----
tl.set_xlim(-0.155, 3.245)
tl.set_ylim(-6.25, -3.75)
bl.set_ylim(-0.4, 1.068)
tl.set_yticks([-6.0, -5.5, -5.0, -4.5, -4.0])
bl.set_yticks([-0.4, -0.2, 0.0, 0.2, 0.4, 0.6, 0.8, 1.0])
for c in range(3):
    axes[1][c].set_xticks([0, 1, 2, 3])

for r in range(2):
    for c in range(3):
        ax = axes[r][c]
        ax.tick_params(labelsize=12)
        if r == 0:
            ax.tick_params(labelbottom=False)
        else:
            ax.set_xlabel(r"time $[10^5 yr]$", fontsize=13)
        if c > 0:
            ax.tick_params(labelleft=False)

tl.set_ylabel(r"log$(m_{acc}; m_{ej})$", fontsize=13, labelpad=0)
bl.set_ylabel(r"$\eta$", fontsize=13, labelpad=-2)

title_x = [0.576, 0.544, 0.521]
for c in range(3):
    axes[0][c].text(title_x[c], 1.062, TITLES[c], transform=axes[0][c].transAxes,
                    ha="center", va="center", fontsize=12,
                    bbox=dict(boxstyle="square,pad=0.25", fc="white", ec="#999999", lw=1))

# ---- legends ----
acc_cols = [C125, C100, C070]
ej_cols = [E125, E100, E070]
h_acc = [Line2D([], [], ls="none", marker="o", ms=2, color=col) for col in acc_cols]
h_ej = [Line2D([], [], ls="none", marker="x", ms=4, color=col) for col in ej_cols]
h_eta = [Line2D([], [], ls="none", marker="o", ms=2, color=col) for col in acc_cols]

tl.legend(h_acc, [r"$M_{WD,ini,acc} = %sM{\odot}$" % m for m in MASS_LABELS],
          loc="lower left", bbox_to_anchor=(0.077, 0.032), borderaxespad=0,
          fontsize=12, labelspacing=0.3)
tm.legend(h_ej, [r"$M_{WD,ini,ej} = %sM{\odot}$" % m for m in MASS_LABELS],
          loc="lower left", bbox_to_anchor=(0.089, 0.024), borderaxespad=0,
          fontsize=12, labelspacing=0.3)
bl.legend(h_eta, [r"$M_{WD,ini} = %sM_{\odot}$" % m for m in MASS_LABELS],
          loc="upper right", bbox_to_anchor=(0.94, 0.931), borderaxespad=0,
          fontsize=15, labelspacing=0.15)

fig.savefig("out.png", dpi=100)
